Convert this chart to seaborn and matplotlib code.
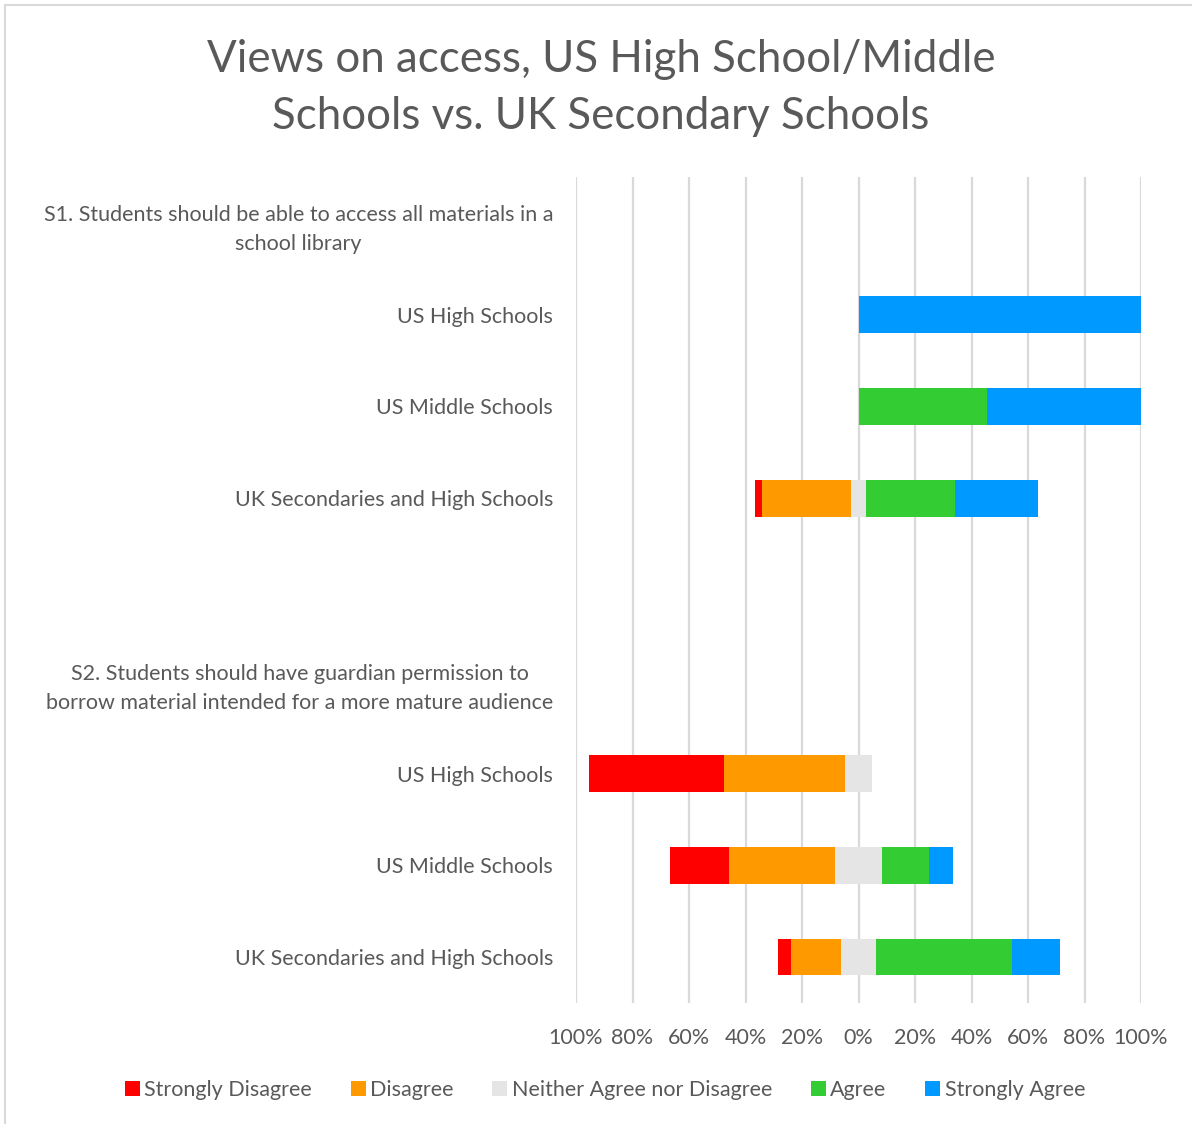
import matplotlib
matplotlib.use("Agg")
import matplotlib.pyplot as plt
import matplotlib.transforms as mtransforms
from matplotlib.patches import Patch
from matplotlib.lines import Line2D
import seaborn as sns
import pandas as pd

# Row keys (unique) and their displayed labels, top to bottom
row_keys = ["S1", "S1 US High", "S1 US Middle", "S1 UK", "gap",
            "S2", "S2 US High", "S2 US Middle", "S2 UK"]
row_labels = [
    "S1. Students should be able to access all materials in a\nschool library",
    "US High Schools",
    "US Middle Schools",
    "UK Secondaries and High Schools",
    "",
    "S2. Students should have guardian permission to\nborrow material intended for a more mature audience",
    "US High Schools",
    "US Middle Schools",
    "UK Secondaries and High Schools",
]

levels = ["Strongly Disagree", "Disagree", "Neither Agree nor Disagree",
          "Agree", "Strongly Agree"]
colors = ["#FF0000", "#FF9900", "#E5E5E5", "#33CC33", "#0099FF"]

# Percent of responses per row (header and gap rows are empty)
strongly_disagree = [0, 0, 0, 2.4, 0, 0, 47.6, 20.8, 4.6]
disagree          = [0, 0, 0, 31.4, 0, 0, 42.9, 37.5, 17.8]
neither           = [0, 0, 0, 5.4, 0, 0, 9.5, 16.7, 12.3]
agree             = [0, 0, 45.5, 31.6, 0, 0, 0, 16.7, 48.3]
strongly_agree    = [0, 100, 54.5, 29.2, 0, 0, 0, 8.3, 17.0]

x_ticks = [-100, -80, -60, -40, -20, 0, 20, 40, 60, 80, 100]

df = pd.DataFrame({
    "row": row_keys,
    "sd": strongly_disagree,
    "d": disagree,
    "n": neither,
    "a": agree,
    "sa": strongly_agree,
})
# Diverging stack: neutral is split around zero; segments are layered
# from the outermost extent inwards.
df["neg_sd"] = -(df["n"] / 2 + df["d"] + df["sd"])
df["neg_d"] = -(df["n"] / 2 + df["d"])
df["neg_n"] = -(df["n"] / 2)
df["pos_sa"] = df["n"] / 2 + df["a"] + df["sa"]
df["pos_a"] = df["n"] / 2 + df["a"]
df["pos_n"] = df["n"] / 2

sns.set_theme(style="white")
text_color = "#595959"
plt.rcParams["font.family"] = ["Lato", "DejaVu Sans"]

W, H = 1192, 1124
fig = plt.figure(figsize=(W / 100, H / 100), dpi=100)
ax = fig.add_axes([576 / W, 1 - 1003 / H, (1141 - 576) / W, (1003 - 177) / H])

layers = [("neg_sd", 0), ("neg_d", 1), ("neg_n", 2),
          ("pos_sa", 4), ("pos_a", 3), ("pos_n", 2)]
for col, ci in layers:
    sns.barplot(data=df, x=col, y="row", order=row_keys, orient="h",
                color=colors[ci], saturation=1, width=0.4,
                linewidth=0, ax=ax, errorbar=None)

ax.set_xlim(-100, 100)
ax.set_ylim(len(row_keys) - 0.5, -0.5)
ax.set_xticks(x_ticks)
ax.set_xticklabels([f"{abs(v)}%" for v in x_ticks])
ax.set_yticks(range(len(row_keys)))
ax.set_yticklabels(row_labels)
for lbl in ax.get_yticklabels():
    lbl.set_multialignment("center")
    lbl.set_linespacing(1.6)
    dy = 6 if "\n" in lbl.get_text() else 2
    lbl.set_transform(lbl.get_transform() +
                      mtransforms.ScaledTranslation(0, dy / 100, fig.dpi_scale_trans))
ax.set_xlabel("")
ax.set_ylabel("")
ax.tick_params(axis="y", length=0, pad=16.5, labelsize=15.5, labelcolor=text_color)
ax.tick_params(axis="x", length=0, pad=18, labelsize=15.5, labelcolor=text_color)
for s in ax.spines.values():
    s.set_visible(False)
ax.xaxis.grid(True, color="#D9D9D9", linewidth=1.6)
ax.yaxis.grid(False)
ax.set_axisbelow(True)

fig.text(601 / W, 1 - 88 / H,
         "Views on access, US High School/Middle\nSchools vs. UK Secondary Schools",
         ha="center", va="center", fontsize=31.6, color=text_color,
         linespacing=1.48)

handles = [Patch(facecolor=c, edgecolor="none", label=l) for l, c in zip(levels, colors)]
fig.legend(handles=handles, loc="center", bbox_to_anchor=(605 / W, 1 - 1090 / H),
           ncol=5, frameon=False, fontsize=15.5, labelcolor=text_color,
           handlelength=0.7, handleheight=0.7, handletextpad=0.2,
           columnspacing=1.8)

# Chart-area border
fig.add_artist(Line2D([5 / W, 5 / W], [0, 1 - 5 / H], transform=fig.transFigure,
                      color="#D9D9D9", linewidth=1.5))
fig.add_artist(Line2D([5 / W, 1], [1 - 5 / H, 1 - 5 / H], transform=fig.transFigure,
                      color="#D9D9D9", linewidth=1.5))

fig.savefig("out.png", dpi=100, facecolor="white")
